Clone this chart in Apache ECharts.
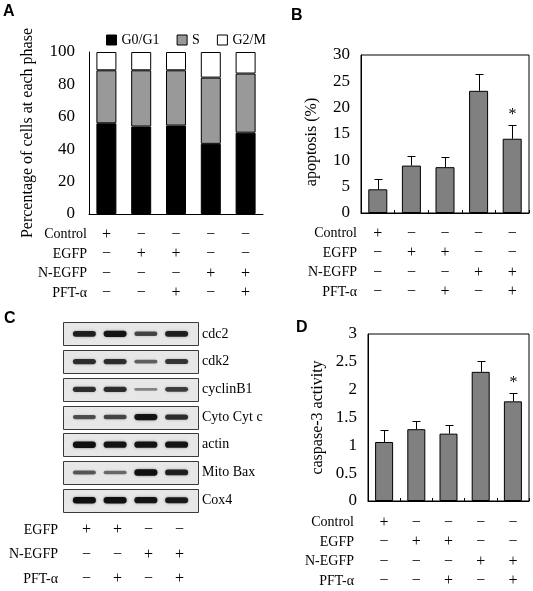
<!DOCTYPE html>
<html><head><meta charset="utf-8">
<script src="https://cdn.jsdelivr.net/npm/echarts/dist/echarts.min.js"></script>
<style>html,body{margin:0;padding:0;background:#fff}#c{width:533px;height:591px}</style>
</head><body><div id="c"></div>
<script>
// ---------- data ----------
const groups = ['g1','g2','g3','g4','g5'];
const g0g1 = [56.0, 54.0, 54.6, 43.3, 50.2];
const sPhase = [32.7, 34.7, 34.1, 40.9, 36.5];
const g2m = [11.3, 11.3, 11.3, 15.8, 13.3];
const apoptosis = [4.5, 9.0, 8.7, 23.2, 14.1];
const apoptosisErr = [1.9, 1.9, 1.9, 3.1, 2.7];
const caspase = [1.06, 1.29, 1.21, 2.32, 1.79];
const caspaseErr = [0.21, 0.15, 0.16, 0.20, 0.15];
const signif = ['', '', '', '', '*'];
const treatRows = ['Control', 'EGFP', 'N-EGFP', 'PFT-α'];
const signControl = ['+', '−', '−', '−', '−'];
const signEGFP = ['−', '+', '+', '−', '−'];
const signNEGFP = ['−', '−', '−', '+', '+'];
const signPFT = ['−', '−', '+', '−', '+'];
const blotRows = ['cdc2', 'cdk2', 'cyclinB1', 'Cyto Cyt c', 'actin', 'Mito Bax', 'Cox4'];
const lanes = ['L1', 'L2', 'L3', 'L4'];
const bandCdc2 = [0.85, 0.95, 0.60, 0.85];
const bandCdk2 = [0.75, 0.75, 0.45, 0.70];
const bandCyclinB1 = [0.75, 0.75, 0.25, 0.65];
const bandCytoCytC = [0.55, 0.60, 0.95, 0.75];
const bandActin = [1.00, 0.95, 0.95, 0.95];
const bandMitoBax = [0.50, 0.40, 1.00, 0.85];
const bandCox4 = [1.00, 1.00, 0.95, 0.90];
const laneRows = ['EGFP', 'N-EGFP', 'PFT-α'];
const laneEGFP = ['+', '+', '−', '−'];
const laneNEGFP = ['−', '−', '+', '+'];
const lanePFT = ['−', '+', '−', '+'];

// ---------- helpers ----------
const SERIF = '"Liberation Serif", "Times New Roman", serif';
const signTable = [signControl, signEGFP, signNEGFP, signPFT];
const laneTable = [laneEGFP, laneNEGFP, lanePFT];
const bandTable = [bandCdc2, bandCdk2, bandCyclinB1, bandCytoCytC, bandActin, bandMitoBax, bandCox4];
const tableRef = { signA: signTable, signB: signTable, signD: signTable, signC: laneTable };

function cells(tbl) {
  const out = [];
  tbl.forEach((row, r) => row.forEach((s, c) => out.push([c, r])));
  return out;
}
function renderSign(params, api) {
  const p = api.coord([api.value(0), api.value(1)]);
  const s = tableRef[params.seriesName][api.value(1)][api.value(0)];
  return { type: 'text', x: p[0], y: p[1],
    style: { text: s, fontFamily: SERIF, fontSize: 16, fill: '#000', align: 'center', verticalAlign: 'middle' } };
}
function errRender() {
  return function (params, api) {
    const i = api.value(0), v = api.value(1), e = api.value(2);
    const p0 = api.coord([i, v]), p1 = api.coord([i, v + e]);
    const x = Math.round(p0[0]) + 0.5;
    const yc = Math.round(p1[1]) + 0.5;
    const ch = [
      { type: 'line', shape: { x1: x, y1: p0[1], x2: x, y2: yc }, style: { stroke: '#000', lineWidth: 1 } },
      { type: 'line', shape: { x1: x - 4, y1: yc, x2: x + 4, y2: yc }, style: { stroke: '#000', lineWidth: 1 } }
    ];
    if (signif[i]) ch.push({ type: 'text', x: x, y: yc - 3,
      style: { text: signif[i], fontFamily: SERIF, fontSize: 16, fill: '#000', align: 'center', verticalAlign: 'bottom' } });
    return { type: 'group', children: ch };
  };
}

const sideAxisLabel = (margin) => ({ fontFamily: SERIF, fontSize: 14, color: '#000', margin: margin });
const tickLabel = (margin) => ({ fontFamily: SERIF, fontSize: 17, color: '#000', margin: margin });
const nameStyle = { fontFamily: SERIF, fontSize: 16, color: '#000' };
const blackLine = { show: true, lineStyle: { color: '#000', width: 1 } };
const innerTicks = { show: true, inside: true, length: 3, lineStyle: { color: '#000' } };

const chart = echarts.init(document.getElementById('c'), null, { renderer: 'canvas' });
const option = {
  animation: false,
  backgroundColor: '#fff',
  textStyle: { fontFamily: SERIF },
  legend: {
    data: ['G0/G1', 'S', 'G2/M'], left: 101, top: 28, itemWidth: 10, itemHeight: 10, itemGap: 17,
    icon: 'rect', textStyle: { fontFamily: SERIF, fontSize: 14, color: '#000' },
    itemStyle: { borderColor: '#000', borderWidth: 1 }
  },
  graphic: [
    { type: 'text', left: 3, top: 4, style: { text: 'A', font: 'bold 16px "Liberation Sans"', fill: '#000' } },
    { type: 'text', left: 291, top: 8, style: { text: 'B', font: 'bold 16px "Liberation Sans"', fill: '#000' } },
    { type: 'text', left: 4, top: 311, style: { text: 'C', font: 'bold 16px "Liberation Sans"', fill: '#000' } },
    { type: 'text', left: 296, top: 320, style: { text: 'D', font: 'bold 16px "Liberation Sans"', fill: '#000' } }
  ],
  grid: [
    { left: 89, top: 52, width: 174, height: 162 },
    { left: 89, top: 225, width: 174, height: 78 },
    { left: 361, top: 55, width: 168, height: 158, show: true, borderColor: '#000', borderWidth: 1 },
    { left: 361, top: 224, width: 168, height: 78 },
    { left: 69, top: 320, width: 123, height: 194 },
    { left: 71, top: 518, width: 124, height: 75 },
    { left: 368, top: 334, width: 161, height: 167, show: true, borderColor: '#000', borderWidth: 1 },
    { left: 368, top: 513, width: 161, height: 80 }
  ],
  xAxis: [
    { gridIndex: 0, type: 'category', data: groups, axisLine: blackLine, axisTick: { show: false }, axisLabel: { show: false } },
    { gridIndex: 1, type: 'category', data: groups, show: false },
    { gridIndex: 2, type: 'category', data: groups, axisLine: blackLine, axisTick: innerTicks, axisLabel: { show: false } },
    { gridIndex: 3, type: 'category', data: groups, show: false },
    { gridIndex: 4, type: 'category', data: lanes, show: false },
    { gridIndex: 5, type: 'category', data: lanes, show: false },
    { gridIndex: 6, type: 'category', data: groups, axisLine: blackLine, axisTick: innerTicks, axisLabel: { show: false } },
    { gridIndex: 7, type: 'category', data: groups, show: false }
  ],
  yAxis: [
    { gridIndex: 0, type: 'value', min: 0, max: 100, interval: 20, axisLine: blackLine, axisTick: { show: false }, splitLine: { show: false },
      axisLabel: tickLabel(14), name: 'Percentage of cells at each phase', nameLocation: 'middle', nameGap: 53, nameRotate: 90,
      nameTextStyle: nameStyle },
    { gridIndex: 1, type: 'category', data: treatRows, inverse: true, axisLine: { show: false }, axisTick: { show: false }, axisLabel: sideAxisLabel(2) },
    { gridIndex: 2, type: 'value', min: 0, max: 30, interval: 5, axisLine: blackLine, axisTick: { show: false }, splitLine: { show: false },
      axisLabel: tickLabel(11), name: 'apoptosis (%)', nameLocation: 'end', nameGap: 0, nameRotate: 90,
      nameTextStyle: Object.assign({}, nameStyle, { align: 'center', verticalAlign: 'bottom', padding: [0, 0, 0, 0] }) },
    { gridIndex: 3, type: 'category', data: treatRows, inverse: true, axisLine: { show: false }, axisTick: { show: false }, axisLabel: sideAxisLabel(4) },
    { gridIndex: 4, type: 'category', data: blotRows, inverse: true, position: 'right', axisLine: { show: false }, axisTick: { show: false }, axisLabel: sideAxisLabel(10) },
    { gridIndex: 5, type: 'category', data: laneRows, inverse: true, axisLine: { show: false }, axisTick: { show: false }, axisLabel: sideAxisLabel(13) },
    { gridIndex: 6, type: 'value', min: 0, max: 3, interval: 0.5, axisLine: blackLine, axisTick: { show: false }, splitLine: { show: false },
      axisLabel: tickLabel(11), name: 'caspase-3 activity', nameLocation: 'middle', nameGap: 42, nameRotate: 90,
      nameTextStyle: nameStyle },
    { gridIndex: 7, type: 'category', data: treatRows, inverse: true, axisLine: { show: false }, axisTick: { show: false }, axisLabel: sideAxisLabel(14) }
  ],
  series: [
    { name: 'G0/G1', type: 'bar', stack: 'a', xAxisIndex: 0, yAxisIndex: 0, data: g0g1, barWidth: 20,
      itemStyle: { color: '#000', borderColor: '#000', borderWidth: 1 } },
    { name: 'S', type: 'bar', stack: 'a', xAxisIndex: 0, yAxisIndex: 0, data: sPhase, barWidth: 20,
      itemStyle: { color: '#999999', borderColor: '#000', borderWidth: 1 } },
    { name: 'G2/M', type: 'bar', stack: 'a', xAxisIndex: 0, yAxisIndex: 0, data: g2m, barWidth: 20,
      itemStyle: { color: '#fff', borderColor: '#000', borderWidth: 1 } },
    { name: 'signA', type: 'custom', xAxisIndex: 1, yAxisIndex: 1, data: cells(signTable), renderItem: renderSign },
    { name: 'apoptosis', type: 'bar', xAxisIndex: 2, yAxisIndex: 2, data: apoptosis, barWidth: 19,
      itemStyle: { color: '#808080', borderColor: '#000', borderWidth: 1 } },
    { name: 'apoErr', type: 'custom', xAxisIndex: 2, yAxisIndex: 2, z: 5,
      data: apoptosis.map((v, i) => [i, v, apoptosisErr[i]]), renderItem: errRender() },
    { name: 'signB', type: 'custom', xAxisIndex: 3, yAxisIndex: 3, data: cells(signTable), renderItem: renderSign },
    { name: 'boxes', type: 'custom', xAxisIndex: 4, yAxisIndex: 4, z: 1,
      data: blotRows.map((r, i) => [0, i]),
      renderItem: function (params, api) {
        const cs = params.coordSys;
        const cy = api.coord([0, api.value(1)])[1];
        return { type: 'rect', shape: { x: cs.x - 6 + 0.5, y: Math.round(cy - 11.5) + 0.5, width: cs.width + 12, height: 23 },
          style: { fill: '#e7e7e7', stroke: '#3a3a3a', lineWidth: 1 } };
      } },
    { name: 'bands', type: 'custom', xAxisIndex: 4, yAxisIndex: 4, z: 2,
      data: (function () { const o = []; bandTable.forEach((row, r) => row.forEach((v, c) => o.push([c, r, v]))); return o; })(),
      renderItem: function (params, api) {
        const p = api.coord([api.value(0), api.value(1)]);
        const v = api.value(2);
        const h = 1.5 + 5 * v;
        const w = 23;
        return { type: 'rect', shape: { x: p[0] - w / 2, y: p[1] - h / 2, width: w, height: h, r: h / 2 },
          style: { fill: 'rgba(15,15,15,' + (0.25 + 0.75 * v) + ')', shadowBlur: 2.5, shadowColor: 'rgba(40,40,40,' + (0.6 * v) + ')' } };
      } },
    { name: 'signC', type: 'custom', xAxisIndex: 5, yAxisIndex: 5, data: cells(laneTable), renderItem: renderSign },
    { name: 'caspase', type: 'bar', xAxisIndex: 6, yAxisIndex: 6, data: caspase, barWidth: 18,
      itemStyle: { color: '#808080', borderColor: '#000', borderWidth: 1 } },
    { name: 'casErr', type: 'custom', xAxisIndex: 6, yAxisIndex: 6, z: 5,
      data: caspase.map((v, i) => [i, v, caspaseErr[i]]), renderItem: errRender() },
    { name: 'signD', type: 'custom', xAxisIndex: 7, yAxisIndex: 7, data: cells(signTable), renderItem: renderSign }
  ]
};
// place the B axis name so that it is centred on the reference position
option.yAxis[2].nameLocation = 'middle';
option.yAxis[2].nameGap = 41;
option.yAxis[2].nameTextStyle = Object.assign({}, nameStyle, { padding: [0, 16, 0, 0] });
chart.setOption(option);
</script>
</body></html>
